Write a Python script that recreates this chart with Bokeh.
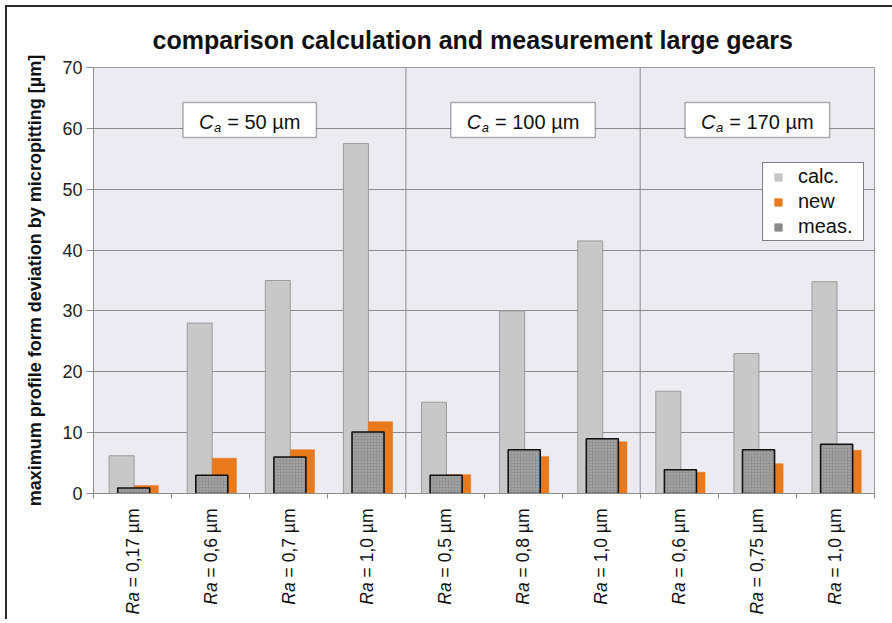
import math
import numpy as np
from bokeh.plotting import figure
from bokeh.layouts import column
from bokeh.models import (ColumnDataSource, Label, BoxAnnotation, Span, FixedTicker,
                          Legend, LegendItem, Range1d)
from bokeh.core.properties import value
from bokeh.embed import file_html
from bokeh.resources import INLINE

# ---------------- data ----------------
ra_labels = ["0,17", "0,6", "0,7", "1,0", "0,5", "0,8", "1,0", "0,6", "0,75", "1,0"]
calc = [6.2, 28.0, 35.0, 57.5, 15.0, 30.0, 41.5, 16.8, 23.0, 34.8]
new = [1.3, 5.8, 7.2, 11.8, 3.1, 6.1, 8.5, 3.5, 4.9, 7.1]
meas = [0.9, 3.0, 6.0, 10.1, 3.0, 7.2, 9.0, 3.9, 7.2, 8.1]
ca_values = ["50", "100", "170"]
ca_group_sizes = [4, 3, 3]
y_ticks = [0, 10, 20, 30, 40, 50, 60, 70]

title_text = "comparison calculation and measurement large gears"
ylabel_text = "maximum profile form deviation by micropitting [µm]"

# ---------------- layout constants ----------------
OFF = 7                       # page offset of the framed area (margin 5 + border 2)
W = 892 - OFF
H_MAIN = 505 - OFF
H_LAB = 114
B_LEFT, B_RIGHT, B_TOP, B_BOTTOM = 93 - OFF, 18, 67 - OFF, 12
FRAME_W = W - B_LEFT - B_RIGHT
FRAME_H = H_MAIN - B_TOP - B_BOTTOM
N = len(calc)
YMAX = 70
PX_X = N / FRAME_W      # data units per px (x)
PX_Y = YMAX / FRAME_H   # data units per px (y)
FONT = "Liberation Sans"
FR_TOP = 67             # page y of frame top

# Arial / Liberation Sans advance widths (per 1000 em)
ADV = {' ': 278, '=': 584, ',': 278, '.': 278, 'µ': 576, 'm': 833, 'R': 722,
       'a': 556, 'C': 722}
for d in "0123456789":
    ADV[d] = 556


def text_w(s, size):
    return sum(ADV.get(ch, 556) for ch in s) * size / 1000.0


def page_y(py):
    """page pixel y -> data y of main plot"""
    return (FRAME_H - (py - FR_TOP)) * PX_Y


p = figure(width=W, height=H_MAIN, x_range=(0, N), y_range=(0, YMAX),
           output_backend="svg", toolbar_location=None,
           min_border_left=B_LEFT, min_border_right=B_RIGHT,
           min_border_top=B_TOP, min_border_bottom=B_BOTTOM,
           background_fill_color="#ebebf1", border_fill_color="white",
           outline_line_color="#9a9a9a", outline_line_width=1)

# title
p.title.text = title_text
p.title.align = "left"
p.title.offset = 59
p.title.text_font = FONT
p.title.text_font_size = "25px"
p.title.text_font_style = "bold"
p.title.text_color = "#111111"
p.title.standoff = 27

# grid
p.xgrid.visible = False
p.ygrid.ticker = FixedTicker(ticks=y_ticks)
p.ygrid.grid_line_color = "#8c8c8c"
p.ygrid.grid_line_width = 1

# group separators
cum = np.cumsum(ca_group_sizes)
for loc in cum[:-1]:
    p.add_layout(Span(location=float(loc), dimension="height", line_color="#8c8c8c",
                      line_width=1, level="underlay"))

# axes
p.xaxis.ticker = FixedTicker(ticks=list(range(N + 1)))
p.xaxis.major_label_text_font_size = "0px"
p.xaxis.major_label_text_color = None
p.xaxis.major_label_standoff = 0
p.xaxis.major_tick_out = 5
p.xaxis.major_tick_in = 0
p.xaxis.minor_tick_line_color = None
p.xaxis.axis_line_color = "#8c8c8c"
p.xaxis.major_tick_line_color = "#8c8c8c"

p.yaxis.ticker = FixedTicker(ticks=y_ticks)
p.yaxis.major_tick_out = 7
p.yaxis.major_tick_in = 0
p.yaxis.minor_tick_line_color = None
p.yaxis.axis_line_color = "#8c8c8c"
p.yaxis.major_tick_line_color = "#8c8c8c"
p.yaxis.major_label_text_font = FONT
p.yaxis.major_label_text_font_size = "18px"
p.yaxis.major_label_text_color = "#222222"
p.yaxis.major_label_standoff = 4
p.yaxis.axis_label = ylabel_text
p.yaxis.axis_label_text_font = FONT
p.yaxis.axis_label_text_font_size = "18px"
p.yaxis.axis_label_text_font_style = "bold"
p.yaxis.axis_label_text_color = "#111111"
p.yaxis.axis_label_standoff = 14

# bars
idx = np.arange(N)
src = ColumnDataSource(dict(
    calc_l=idx + 0.20, calc_r=idx + 0.52, calc=calc,
    new_l=idx + 0.52, new_r=idx + 0.83, new=new,
    meas_l=idx + 0.31, meas_r=idx + 0.72, meas=meas,
))
p.quad(left="calc_l", right="calc_r", bottom=0, top="calc", source=src,
       fill_color="#c8c8c8", line_color="#9c9c9c", line_width=1)
p.quad(left="new_l", right="new_r", bottom=0, top="new", source=src,
       fill_color="#e8791c", line_color="#e8791c", line_width=0.5)
p.quad(left="meas_l", right="meas_r", bottom=0, top="meas", source=src,
       fill_color="#939393", line_color="#111111", line_width=1.6,
       hatch_pattern=".", hatch_color="#b8b8b8", hatch_scale=3, hatch_weight=1)

# legend (renderers without visible points, used only for the swatches)
nan = [float("nan")]
r1 = p.scatter(x=nan, y=nan, marker="square", fill_color="#c6c6c6", line_color="#c6c6c6")
r2 = p.scatter(x=nan, y=nan, marker="square", fill_color="#e8791c", line_color="#e8791c")
r3 = p.scatter(x=nan, y=nan, marker="square", fill_color="#8a8a8a", line_color="#8a8a8a")
legend = Legend(items=[LegendItem(label="calc.", renderers=[r1]),
                       LegendItem(label="new", renderers=[r2]),
                       LegendItem(label="meas.", renderers=[r3])],
                location=(669, 252), margin=0, padding=2, spacing=2,
                glyph_width=26, glyph_height=18, label_standoff=7,
                label_height=22, label_width=63,
                label_text_font=FONT, label_text_font_size="20px",
                label_text_color="#111111",
                border_line_color="black", border_line_width=1.5,
                background_fill_color="white", background_fill_alpha=1.0)
p.add_layout(legend)

# C_a boxes
CA_SIZE = 20
SUB_SIZE = 13
box_top = page_y(102)
box_bot = page_y(137)
mid_y = page_y(121.5)
sub_y = page_y(127)
starts = np.concatenate([[0], cum[:-1]])
for s, n, v in zip(starts, ca_group_sizes, ca_values):
    cx_px = (s + n / 2.0) / PX_X
    rest = "= " + v + " µm"
    wC = text_w("C", CA_SIZE)
    wa = text_w("a", SUB_SIZE)
    gap = 6
    w = wC + 0.5 + wa + gap + text_w(rest, CA_SIZE)
    x0 = cx_px - w / 2.0
    pad = 16
    p.add_layout(BoxAnnotation(left=(x0 - pad) * PX_X, right=(x0 + w + pad) * PX_X,
                               top=box_top, bottom=box_bot, fill_color="white",
                               fill_alpha=1.0, line_color="black", line_width=1.5))
    p.add_layout(Label(x=x0 * PX_X, y=mid_y, text="C", text_font=FONT,
                       text_font_size=f"{CA_SIZE}px", text_font_style="italic",
                       text_align="left", text_baseline="middle", text_color="#111111"))
    p.add_layout(Label(x=(x0 + wC + 0.5) * PX_X, y=sub_y, text="a", text_font=FONT,
                       text_font_size=f"{SUB_SIZE}px", text_font_style="italic",
                       text_align="left", text_baseline="middle", text_color="#111111"))
    p.add_layout(Label(x=(x0 + wC + 0.5 + wa + gap) * PX_X, y=mid_y, text=rest,
                       text_font=FONT, text_font_size=f"{CA_SIZE}px",
                       text_align="left", text_baseline="middle", text_color="#111111"))

# ---------------- category labels strip (shares the x range) ----------------
p2 = figure(width=W, height=H_LAB, x_range=p.x_range, y_range=Range1d(0, H_LAB),
            output_backend="svg", toolbar_location=None,
            x_axis_type=None, y_axis_type=None,
            min_border_left=B_LEFT, min_border_right=B_RIGHT,
            min_border_top=0, min_border_bottom=0,
            background_fill_color="white", border_fill_color="white",
            outline_line_color=None)
p2.xgrid.visible = False
p2.ygrid.visible = False

XL_SIZE = 17.5
top_px = H_LAB - 3
rest_txt = ["= " + ra + " µm" for ra in ra_labels]
ra_y = [top_px - (text_w(t, XL_SIZE) + text_w(" ", XL_SIZE)) for t in rest_txt]
lab_src = ColumnDataSource(dict(x=idx + 0.5, rest=rest_txt, ytop=[top_px] * N,
                                ra=["Ra"] * N, ra_y=ra_y))
p2.text(x="x", y="ytop", text="rest", source=lab_src, angle=math.pi / 2,
        text_font=value(FONT), text_font_size=value(f"{XL_SIZE}px"),
        text_align="right", text_baseline="middle", text_color="#111111")
p2.text(x="x", y="ra_y", text="ra", source=lab_src, angle=math.pi / 2,
        text_font=value(FONT), text_font_size=value(f"{XL_SIZE}px"),
        text_font_style="italic",
        text_align="right", text_baseline="middle", text_color="#111111")

layout = column(p, p2, spacing=0,
                styles={"margin-left": "5px", "margin-top": "5px",
                        "border-left": "2px solid #2b2b2b",
                        "border-top": "2px solid #2b2b2b"})
open("out.html", "w").write(file_html(layout, INLINE))
